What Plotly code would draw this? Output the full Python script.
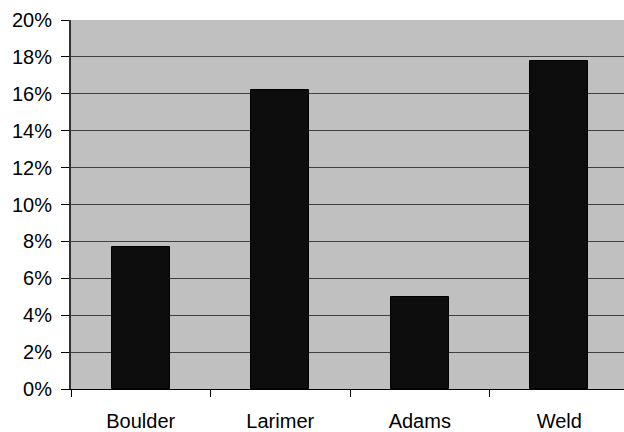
import plotly.graph_objects as go

# County shares (percent)
counties = ["Boulder", "Larimer", "Adams", "Weld"]
shares = [7.7, 16.2, 5.0, 17.8]
y_ticks = [0, 2, 4, 6, 8, 10, 12, 14, 16, 18, 20]
y_labels = [f"{v}%" for v in y_ticks]

font = dict(family="Liberation Sans, Arial, sans-serif", size=20, color="#000000")

fig = go.Figure(
    go.Bar(
        x=counties,
        y=shares,
        width=0.416,
        marker=dict(color="#0d0d0d", line=dict(color="#000000", width=1)),
    )
)

fig.update_layout(
    width=624,
    height=432,
    margin=dict(l=71, r=0, t=20, b=43),
    paper_bgcolor="#ffffff",
    plot_bgcolor="#c0c0c0",
    font=font,
    showlegend=False,
    bargap=0,
)

fig.update_xaxes(
    type="category",
    range=[-0.5, 3.464],
    tickson="boundaries",
    ticks="outside",
    ticklen=7,
    tickcolor="#000000",
    showline=True,
    linecolor="#000000",
    linewidth=1,
    showgrid=False,
    tickfont=font,
    ticklabelstandoff=14,
)

fig.update_yaxes(
    range=[0, 20],
    tickvals=y_ticks,
    ticktext=y_labels,
    ticks="outside",
    ticklen=8,
    tickcolor="#000000",
    showline=True,
    linecolor="#333333",
    linewidth=2,
    showgrid=True,
    gridcolor="#404040",
    gridwidth=1,
    zeroline=False,
    tickfont=font,
    ticklabelstandoff=5,
)

fig.write_html("out.html")
